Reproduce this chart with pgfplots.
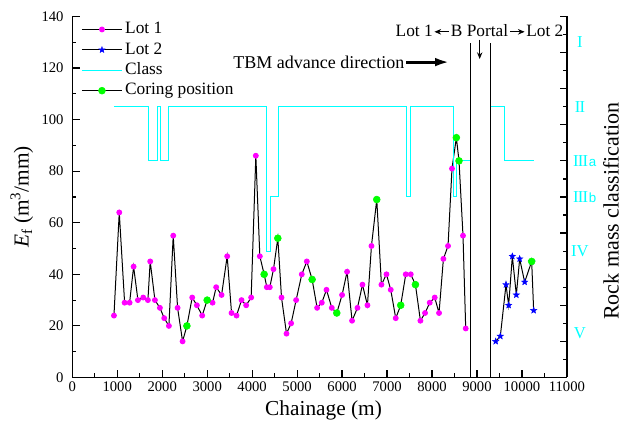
\documentclass[border=0pt]{standalone}
\usepackage{fontspec}
\setmainfont{Liberation Serif}
\newfontfamily\lsans{Liberation Sans}
\usepackage{pgfplots}
\pgfplotsset{compat=1.18}
\usetikzlibrary{arrows.meta,plotmarks}

\definecolor{lotone}{RGB}{255,0,255}
\definecolor{lottwo}{RGB}{0,0,255}
\definecolor{classc}{RGB}{0,255,255}
\definecolor{coring}{RGB}{0,255,0}

% filled five-pointed star
\pgfdeclareplotmark{fstar}{%
  \pgfpathmoveto{\pgfpointpolar{90}{\pgfplotmarksize}}%
  \pgfpathlineto{\pgfpointpolar{126}{0.42\pgfplotmarksize}}%
  \pgfpathlineto{\pgfpointpolar{162}{\pgfplotmarksize}}%
  \pgfpathlineto{\pgfpointpolar{198}{0.42\pgfplotmarksize}}%
  \pgfpathlineto{\pgfpointpolar{234}{\pgfplotmarksize}}%
  \pgfpathlineto{\pgfpointpolar{270}{0.42\pgfplotmarksize}}%
  \pgfpathlineto{\pgfpointpolar{306}{\pgfplotmarksize}}%
  \pgfpathlineto{\pgfpointpolar{342}{0.42\pgfplotmarksize}}%
  \pgfpathlineto{\pgfpointpolar{18}{\pgfplotmarksize}}%
  \pgfpathlineto{\pgfpointpolar{54}{0.42\pgfplotmarksize}}%
  \pgfpathclose\pgfusepathqfillstroke}

\newcommand\larr{\kern1pt\tikz[baseline=-0.6ex]\draw[line width=0.6pt,{Stealth[length=5pt,width=4.2pt]}-](0,0)--(11pt,0);\kern1pt}
\newcommand\rarr{\kern1pt\tikz[baseline=-0.6ex]\draw[line width=0.6pt,-{Stealth[length=5pt,width=4.2pt]}](0,0)--(11pt,0);\kern1pt}
% roman class numerals with touching serifs
\newcommand\rI{I}
\newcommand\rII{I\kern-0.6pt I}
\newcommand\rIII{I\kern-0.6pt I\kern-0.6pt I}
\newcommand\sub[1]{{\lsans\fontsize{10}{12}\selectfont #1}}

\tikzset{classlabel/.style={inner sep=0pt, text=classc, font=\fontsize{12.5}{14}\selectfont}}

% legend samples
\pgfplotsset{
  lotonelegend/.style={legend image code/.code={%
    \draw[black, line width=0.75pt] (0pt,0pt)--(30pt,0pt);
    \fill[lotone] (15pt,0pt) circle (1.8pt);}},
  lottwolegend/.style={legend image code/.code={%
    \draw[black, line width=0.75pt] (0pt,0pt)--(30pt,0pt);
    \path[draw=lottwo, fill=lottwo, line width=0.3pt] plot[only marks, mark=fstar, mark size=2.4pt] coordinates {(15pt,0pt)};}},
  classlegend/.style={legend image code/.code={%
    \draw[classc, line width=0.8pt] (0pt,0pt)--(30pt,0pt);}},
  coringlegend/.style={legend image code/.code={%
    \draw[black, line width=0.75pt] (0pt,0pt)--(30pt,0pt);
    \fill[coring] (15pt,0pt) circle (2.6pt);}},
}

\begin{document}
\begin{tikzpicture}
\begin{axis}[
  at={(0,0)}, anchor=south west,
  scale only axis, width=371pt, height=270.75pt,
  xmin=0, xmax=11000, ymin=0, ymax=140,
  axis x line*=bottom, axis y line*=left,
  axis line style={line width=0.9pt},
  tick align=inside, major tick length=5.5pt, minor tick length=3pt,
  every tick/.style={black, line width=0.9pt},
  xtick={0,1000,...,11000}, minor x tick num=1,
  ytick={0,20,...,140}, minor y tick num=1,
  scaled x ticks=false,
  /pgf/number format/assume math mode=true,
  /pgf/number format/1000 sep={},
  tick label style={font=\fontsize{11}{13}\selectfont},
  yticklabel style={xshift=-3pt},
  xlabel={Chainage (m)},
  ylabel={\textit{E}\textsubscript{f} (m\textsuperscript{3}/mm)},
  every axis x label/.style={at={(axis description cs:0.508,-0.09)}, anchor=center, font=\fontsize{16}{19}\selectfont},
  every axis y label/.style={at={(axis description cs:-0.102,0.5)}, anchor=center, rotate=90, font=\fontsize{16}{19}\selectfont},
  clip=false,
  legend style={at={(axis description cs:0.018,1.0)}, anchor=north west, yshift=-3.3pt,
    draw=none, fill=none, inner sep=0pt,
    font=\fontsize{13}{15}\selectfont,
    nodes={inner ysep=0pt, text height=9.5pt, text depth=3pt},
    row sep=2.8pt},
  legend cell align=left,
]

% Lot 1 measurements
\addplot[black, line width=0.75pt, mark=*, mark size=1.8pt,
  mark options={draw=lotone, fill=lotone, solid}, lotonelegend]
table {
x y
927 24
1045 64
1164 29
1275 29
1364 43
1460 30
1578 31
1682 30
1733 45
1838 30
1949 27
2045 23
2149 20
2245 55
2342 27
2453 14
2549 20
2667 31
2771 28
2889 24
3000 30
3120 29
3200 35
3320 32
3445 47
3542 25
3653 24
3764 30
3867 28
3978 31
4082 86
4171 47
4267 40
4327 35
4393 35
4475 42
4571 54
4653 31
4764 17
4867 21
4978 30
5104 40
5216 45
5334 38
5445 27
5549 29
5653 34
5771 27
5882 25
6000 32
6111 41
6222 22
6342 27
6453 36
6564 28
6653 51
6771 69
6875 36
6987 40
7082 34
7193 23
7304 28
7416 40
7527 40
7631 36
7742 22
7845 25
7949 29
8060 31
8156 25
8253 46
8356 51
8444 81
8541 93
8600 84
8689 55
8749 19
};
\addlegendentry{Lot 1}

% Lot 2 measurements
\addplot[black, line width=0.75pt, mark=fstar, mark size=2.5pt,
  mark options={draw=lottwo, fill=lottwo, solid, line width=0.3pt}, lottwolegend]
table {
x y
9416 14
9519 16
9645 36
9704 28
9786 47
9875 32
9949 46
10060 37
10216 45
10260 26
};
\addlegendentry{Lot 2}

% Rock mass class along the tunnel
\addplot[classc, line width=0.8pt, mark=none, classlegend]
table {
x y
927 105
1704 105
1704 84
1897 84
1897 105
1971 105
1971 84
2142 84
2142 105
4320 105
4320 49
4400 49
4400 70
4580 70
4580 105
7430 105
7430 70
7520 70
7520 105
8480 105
8480 70
8540 70
8540 84
8850 84
};
\addlegendentry{Class}
\addplot[classc, line width=0.8pt, mark=none, forget plot]
table {
x y
9290 105
9620 105
9620 84
10270 84
};

% Coring positions
\addplot[only marks, mark=*, mark size=2.6pt,
  mark options={draw=coring, fill=coring}, coringlegend]
table {
x y
2549 20
3000 30
4267 40
4571 54
5334 38
5882 25
6771 69
7304 28
7631 36
8541 93
8600 84
10216 45
};
\addlegendentry{Coring position}

% portal section and annotations
\draw[black, line width=0.8pt] (axis cs:8850,0) -- (axis cs:8850,129.6);
\draw[black, line width=0.8pt] (axis cs:9290,0) -- (axis cs:9290,129.6);
\draw[black, line width=0.8pt, -{Stealth[length=5pt,width=4pt]}] (axis cs:9060,131) -- (axis cs:9060,123.5);
\node[anchor=east, inner sep=0pt, font=\fontsize{13}{15}\selectfont] at (axis cs:10927,134.5) {Lot 1\larr B Portal\rarr Lot 2};
\node[anchor=east, inner sep=0pt, font=\fontsize{13.5}{15}\selectfont] at (axis cs:7390,122.3) {TBM advance direction};
\draw[black, line width=2.2pt, -{Latex[length=11pt,width=6.5pt]}] (axis cs:7431,122.3) -- (axis cs:8393,122.3);

% class labels beside the right axis
\node[classlabel, anchor=center] at ([xshift=9.75pt]axis cs:11000,130) {\rI};
\node[classlabel, anchor=center] at ([xshift=9.75pt]axis cs:11000,105) {\rII};
\node[classlabel, anchor=west] at ([xshift=4.5pt]axis cs:11000,84) {\rIII\kern0.5pt\sub{a}};
\node[classlabel, anchor=west] at ([xshift=4.5pt]axis cs:11000,70) {\rIII\kern0.5pt\sub{b}};
\node[classlabel, anchor=center] at ([xshift=9.75pt]axis cs:11000,49) {IV};
\node[classlabel, anchor=center] at ([xshift=9.75pt]axis cs:11000,17) {V};
\end{axis}

% right-hand classification axis
\begin{axis}[
  at={(0,0)}, anchor=south west,
  scale only axis, width=371pt, height=270.75pt,
  xmin=0, xmax=11000, ymin=0, ymax=10,
  hide x axis, axis y line*=right,
  axis line style={line width=0.9pt},
  tick align=inside, major tick length=5.5pt, minor tick length=3pt,
  every tick/.style={black, line width=0.9pt},
  ytick={0,1,...,10}, yticklabels={}, minor y tick num=1,
  ylabel={Rock mass classification},
  every axis y label/.style={at={(axis description cs:1.089,0.461)}, anchor=center, rotate=90, font=\fontsize{16.5}{19}\selectfont},
]
\addplot[draw=none] coordinates {(0,0)};
\end{axis}

\pgfresetboundingbox
\path[use as bounding box] (-54.2pt,-35.6pt) rectangle (412.3pt,283.1pt);
\end{tikzpicture}
\end{document}
